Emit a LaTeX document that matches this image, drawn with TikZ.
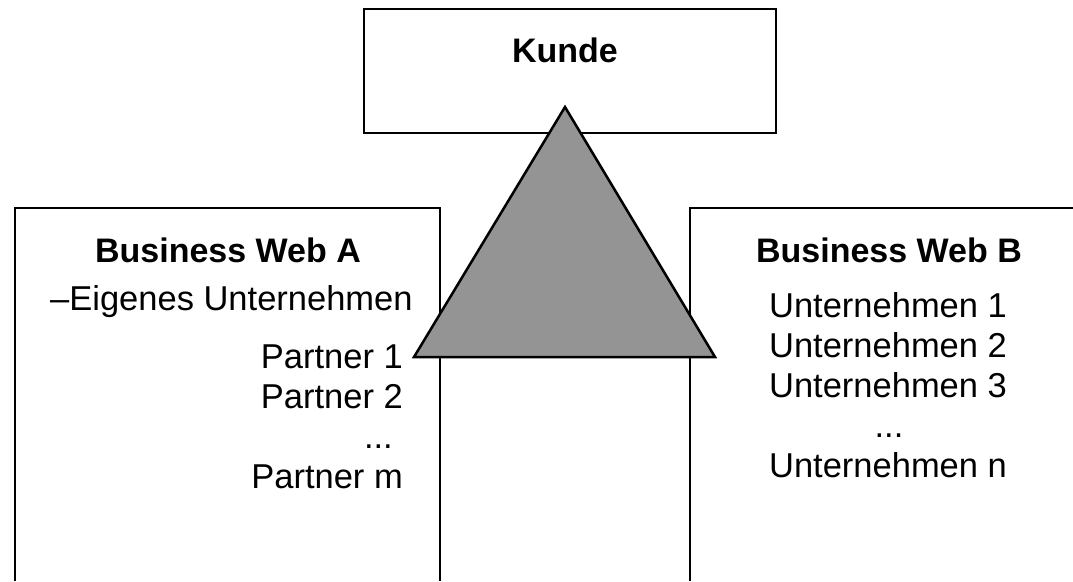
\documentclass[tikz,border=0pt]{standalone}
\usepackage{fontspec}
\setmainfont{Liberation Sans}
\definecolor{triGray}{RGB}{148,148,148}
\tikzset{
  frame/.style={draw=black, line width=2.5pt},
  title/.style={font=\fontsize{34}{40}\selectfont\bfseries, anchor=base, inner sep=0pt},
  entry/.style={font=\fontsize{34.5}{40}\selectfont, anchor=base, inner sep=0pt}
}
\begin{document}
\begin{tikzpicture}[x=1pt,y=-1pt]
		\useasboundingbox (0,0) rectangle (1073,581);
		% Kunde
		\node[frame, minimum width=412pt, minimum height=124pt, inner sep=0pt] (kunde) at (570,71) {};
		\node[title] (kundeText) at (565,62) {Kunde};
		% Business Web A
		\draw[frame] (15,581) |- (440,208) -- (440,581);
		\node[title] (webA) at (228,262) {Business Web A};
		\node[entry, anchor=base west] (eigen) at (50,310) {--Eigenes Unternehmen};
		\node[entry, anchor=base east] (partnerA) at (403,368) {Partner 1};
		\node[entry, anchor=base east] (partnerB) at (403,408) {Partner 2};
		\node[entry, anchor=base east] (dotsA) at (393,448) {...};
		\node[entry, anchor=base east] (partnerM) at (403,488) {Partner m};
		% Business Web B
		\draw[frame] (690,581) |- (1073,208);
		\node[title] (webB) at (889,262) {Business Web B};
		\node[entry] (firmA) at (888,317) {Unternehmen 1};
		\node[entry] (firmB) at (888,357) {Unternehmen 2};
		\node[entry] (firmC) at (888,397) {Unternehmen 3};
		\node[entry] (dotsB) at (889,437) {...};
		\node[entry] (firmN) at (888,477) {Unternehmen n};
		% Dreieck
		\coordinate (apex) at (565,107);
		\coordinate (baseL) at (414,357);
		\coordinate (baseR) at (715,357);
		\draw[frame, fill=triGray] (apex) -- (baseL) -- (baseR) -- cycle;
	\end{tikzpicture}
\end{document}
